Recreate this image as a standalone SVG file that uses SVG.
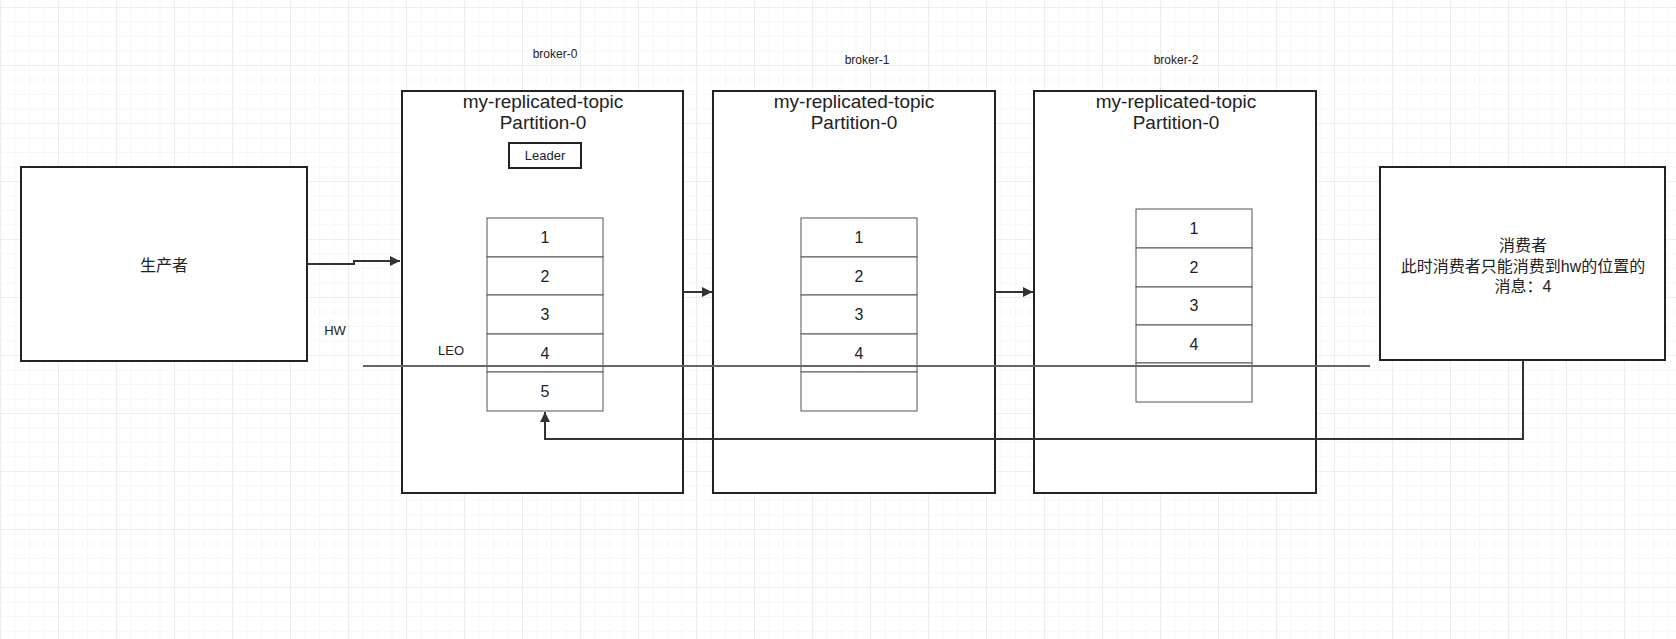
<svg xmlns="http://www.w3.org/2000/svg" width="1676" height="639" viewBox="0 0 1676 639">
<defs>
<pattern id="minor" x="1" y="8" width="14.5" height="14.5" patternUnits="userSpaceOnUse">
<path d="M14.5 0V14.5M0 14.5H14.5" fill="none" stroke="#f0f0f0" stroke-width="1"/>
</pattern>
<pattern id="major" x="1" y="8" width="58" height="58" patternUnits="userSpaceOnUse">
<path d="M58 0V58M0 58H58" fill="none" stroke="#e2e2e2" stroke-width="1"/>
</pattern>
<marker id="arr" viewBox="0 0 10 10" refX="10" refY="5" markerWidth="10" markerHeight="10" markerUnits="userSpaceOnUse" orient="auto">
<path d="M0 0L10 5L0 10Z" fill="#333"/>
</marker>
<style>
.box{fill:#fff;stroke:#222;stroke-width:2}
.cell{fill:#fff;stroke:#555;stroke-width:1}
.t{font-family:"Liberation Sans","Noto Sans CJK SC",sans-serif;fill:#222;text-anchor:middle}
.title{font-size:19px}
.num{font-size:16px}
.small{font-size:12px}
.lbl{font-size:13px}
.cn{font-size:16px}
.conn{fill:none;stroke:#333;stroke-width:2}
</style>
</defs>
<rect width="1676" height="639" fill="#fff"/>
<rect width="1676" height="639" fill="url(#minor)"/>
<rect width="1676" height="639" fill="url(#major)"/>

<g id="producer">
<rect class="box" x="21" y="167" width="286" height="194"/>
<text class="t cn" x="164" y="271">生产者</text>
</g>

<g id="broker-0">
<text class="t small" x="555" y="58">broker-0</text>
<rect class="box" x="402" y="91" width="281" height="402"/>
<text class="t title" x="543" y="108">my-replicated-topic</text>
<text class="t title" x="543" y="129">Partition-0</text>
<rect x="509" y="143" width="72" height="25" fill="#fff" stroke="#222" stroke-width="2"/>
<text class="t lbl" x="545" y="160">Leader</text>
<rect class="cell" x="487" y="218" width="116" height="39"/>
<rect class="cell" x="487" y="257" width="116" height="38"/>
<rect class="cell" x="487" y="295" width="116" height="39"/>
<rect class="cell" x="487" y="334" width="116" height="38"/>
<rect class="cell" x="487" y="372" width="116" height="39"/>
<text class="t num" x="545" y="243">1</text>
<text class="t num" x="545" y="282">2</text>
<text class="t num" x="545" y="320">3</text>
<text class="t num" x="545" y="359">4</text>
<text class="t num" x="545" y="397">5</text>
<text class="t lbl" x="451" y="355">LEO</text>
</g>

<g id="broker-1">
<text class="t small" x="867" y="64">broker-1</text>
<rect class="box" x="713" y="91" width="282" height="402"/>
<text class="t title" x="854" y="108">my-replicated-topic</text>
<text class="t title" x="854" y="129">Partition-0</text>
<rect class="cell" x="801" y="218" width="116" height="39"/>
<rect class="cell" x="801" y="257" width="116" height="38"/>
<rect class="cell" x="801" y="295" width="116" height="39"/>
<rect class="cell" x="801" y="334" width="116" height="38"/>
<rect class="cell" x="801" y="372" width="116" height="39"/>
<text class="t num" x="859" y="243">1</text>
<text class="t num" x="859" y="282">2</text>
<text class="t num" x="859" y="320">3</text>
<text class="t num" x="859" y="359">4</text>
</g>

<g id="broker-2">
<text class="t small" x="1176" y="64">broker-2</text>
<rect class="box" x="1034" y="91" width="282" height="402"/>
<text class="t title" x="1176" y="108">my-replicated-topic</text>
<text class="t title" x="1176" y="129">Partition-0</text>
<rect class="cell" x="1136" y="209" width="116" height="39"/>
<rect class="cell" x="1136" y="248" width="116" height="39"/>
<rect class="cell" x="1136" y="287" width="116" height="38"/>
<rect class="cell" x="1136" y="325" width="116" height="38"/>
<rect class="cell" x="1136" y="363" width="116" height="39"/>
<text class="t num" x="1194" y="234">1</text>
<text class="t num" x="1194" y="273">2</text>
<text class="t num" x="1194" y="311">3</text>
<text class="t num" x="1194" y="350">4</text>
</g>

<g id="consumer">
<rect class="box" x="1380" y="167" width="285" height="193"/>
<text class="t cn" x="1523" y="251">消费者</text>
<text class="t cn" x="1523" y="272">此时消费者只能消费到hw的位置的</text>
<text class="t cn" x="1523" y="292">消息：4</text>
</g>

<g id="hw">
<text class="t lbl" x="335" y="335">HW</text>
<line x1="363" y1="366" x2="1370" y2="366" stroke="#666" stroke-width="2"/>
</g>

<g id="connectors">
<path class="conn" d="M307 264H354V261H400" marker-end="url(#arr)"/>
<path class="conn" d="M683 292H712" marker-end="url(#arr)"/>
<path class="conn" d="M995 292H1033" marker-end="url(#arr)"/>
<path class="conn" d="M1523 360V439H545V412" marker-end="url(#arr)"/>
</g>
</svg>
